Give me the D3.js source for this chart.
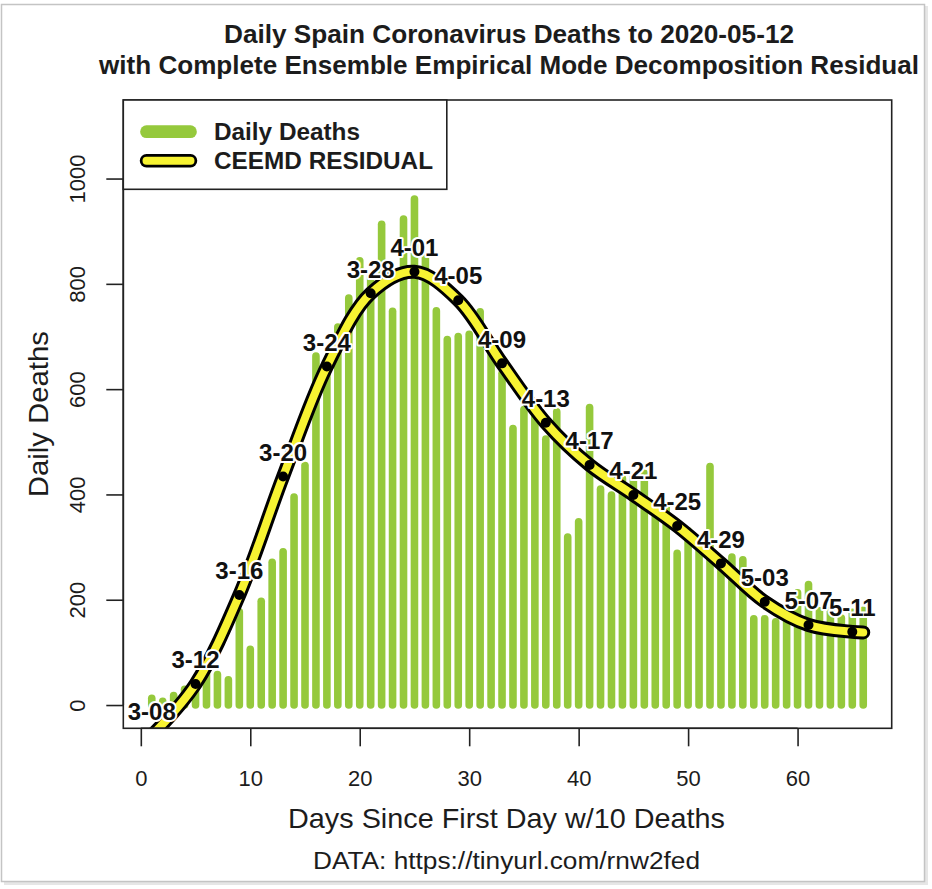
<!DOCTYPE html>
<html><head><meta charset="utf-8">
<script src="https://cdn.jsdelivr.net/npm/d3@7"></script>
<style>body{margin:0;background:#fff} svg{display:block}</style>
</head><body><svg id="c" width="932" height="889"></svg>
<script>
// ---------------- data ----------------
const days = d3.range(1, 67);
const dailyDeaths = [13,7,18,30,38,68,58,48,177,106,197,271,291,395,455,663,653,718,773,844,
  815,913,748,923,961,850,749,694,700,704,747,673,630,525,561,549,505,557,319,348,
  565,410,399,430,435,440,367,378,288,331,301,453,270,281,276,164,164,158,165,213,
  229,179,180,165,176,180];
const residualDays   = [1,5,9,13,17,21,25,29,33,37,41,45,49,53,57,61,65,66];
const residualValues = [-58,40,209,434,643,782,823,769,649,536,456,399,340,269,196,152,139,138];
const residualLabels = ["3-08","3-12","3-16","3-20","3-24","3-28","4-01","4-05","4-09","4-13",
  "4-17","4-21","4-25","4-29","5-03","5-07","5-11"];
const xTicks = [0,10,20,30,40,50,60];
const yTicks = [0,200,400,600,800,1000];
const yLimit = [0, 1105];
const titleLines = ["Daily Spain Coronavirus Deaths to 2020-05-12",
  "with Complete Ensemble Empirical Mode Decomposition Residual"];
const xTitle = "Days Since First Day w/10 Deaths";
const yTitle = "Daily Deaths";
const footer = "DATA: https://tinyurl.com/rnw2fed";
const legendLabels = ["Daily Deaths", "CEEMD RESIDUAL"];

// ---------------- layout ----------------
const FONT = "'Liberation Sans', Arial, Helvetica, sans-serif";
const GREEN = "#95c93c", YELLOW = "#f7f332", INK = "#1c1c1c";
const box = {l: 123.3, r: 891.7, t: 100, b: 728.3};
const svg = d3.select("#c");

// frame around the whole picture
svg.append("rect").attr("x", 4).attr("y", 6).attr("width", 924).attr("height", 879)
  .attr("fill", "#e6e6e6");
svg.append("rect").attr("x", 1.5).attr("y", 4.5).attr("width", 923).attr("height", 877)
  .attr("fill", "#fff").attr("stroke", "#c4c4c4").attr("stroke-width", 1.5);

const xExt = d3.extent(days), xPad = (xExt[1] - xExt[0]) * 0.04;
const yPad = (yLimit[1] - yLimit[0]) * 0.04;
const x = d3.scaleLinear().domain([xExt[0] - xPad, xExt[1] + xPad]).range([box.l, box.r]);
const y = d3.scaleLinear().domain([yLimit[0] - yPad, yLimit[1] + yPad]).range([box.b, box.t]);

svg.append("clipPath").attr("id", "clip").append("rect")
  .attr("x", box.l).attr("y", box.t).attr("width", box.r - box.l).attr("height", box.b - box.t);

// bars (type "h" lines with round ends)
svg.append("g").attr("clip-path", "url(#clip)").selectAll("line").data(days).join("line")
  .attr("x1", d => x(d)).attr("x2", d => x(d))
  .attr("y1", y(0)).attr("y2", (d, i) => y(dailyDeaths[i]))
  .attr("stroke", GREEN).attr("stroke-width", 7.6).attr("stroke-linecap", "round");

// residual curve
const pts = residualDays.map((d, i) => [x(d), y(residualValues[i])]);
const line = d3.line().curve(d3.curveCatmullRom.alpha(0.5));
const cg = svg.append("g").attr("clip-path", "url(#clip)");
cg.append("path").attr("d", line(pts)).attr("fill", "none").attr("stroke", "#000")
  .attr("stroke-width", 14).attr("stroke-linecap", "round").attr("stroke-linejoin", "round");
cg.append("path").attr("d", line(pts)).attr("fill", "none").attr("stroke", YELLOW)
  .attr("stroke-width", 8).attr("stroke-linecap", "round");
cg.selectAll("circle").data(residualLabels).join("circle")
  .attr("cx", (d, i) => x(residualDays[i])).attr("cy", (d, i) => y(residualValues[i]))
  .attr("r", 5).attr("fill", "#000");

// date labels with white halo
svg.append("g").selectAll("text").data(residualLabels).join("text")
  .attr("x", (d, i) => x(residualDays[i])).attr("y", (d, i) => y(residualValues[i]) - 15.7)
  .attr("text-anchor", "middle").attr("font-family", FONT).attr("font-weight", "bold")
  .attr("font-size", 24).attr("fill", "#111")
  .attr("stroke", "#fff").attr("stroke-width", 4).attr("stroke-linejoin", "round")
  .attr("paint-order", "stroke").text(d => d);

// plot box
svg.append("rect").attr("x", box.l).attr("y", box.t).attr("width", box.r - box.l)
  .attr("height", box.b - box.t).attr("fill", "none").attr("stroke", "#222").attr("stroke-width", 1.6);

// axes
const xAxis = svg.append("g").attr("transform", `translate(0,${box.b})`)
  .call(d3.axisBottom(x).tickValues(xTicks).tickSize(18).tickPadding(20).tickFormat(d3.format("d")));
const yAxis = svg.append("g").attr("transform", `translate(${box.l},0)`)
  .call(d3.axisLeft(y).tickValues(yTicks).tickSize(17).tickFormat(d3.format("d")));
[xAxis, yAxis].forEach(a => {
  a.select(".domain").attr("stroke", "#222").attr("stroke-width", 1.6);
  a.selectAll(".tick line").attr("stroke", "#222").attr("stroke-width", 1.6);
  a.selectAll("text").attr("font-family", FONT).attr("font-size", 22).attr("fill", INK);
});
xAxis.select(".domain").attr("d", `M${x(xTicks[0])},0H${x(xTicks[xTicks.length-1])}`);
yAxis.select(".domain").attr("d", `M0,${y(yTicks[0])}V${y(yTicks[yTicks.length-1])}`);
xAxis.selectAll(".tick text").attr("dy", null).attr("y", 57.7);
yAxis.selectAll(".tick text").attr("x", null).attr("dy", null)
  .attr("text-anchor", "middle").attr("transform", "translate(-38.5,0) rotate(-90)");

// titles
const mid = (box.l + box.r) / 2 + 1.5;
const tSpec = [{y: 42.7, len: 570}, {y: 74, len: 820}];
titleLines.forEach((t, i) => svg.append("text").attr("x", mid).attr("y", tSpec[i].y)
  .attr("text-anchor", "middle").attr("font-family", FONT).attr("font-weight", "bold")
  .attr("font-size", 25).attr("fill", INK)
  .attr("textLength", tSpec[i].len).attr("lengthAdjust", "spacingAndGlyphs").text(t));
svg.append("text").attr("x", 506.5).attr("y", 828).attr("text-anchor", "middle")
  .attr("font-family", FONT).attr("font-size", 28).attr("fill", INK)
  .attr("textLength", 437).attr("lengthAdjust", "spacingAndGlyphs").text(xTitle);
svg.append("text").attr("transform", `translate(48,${(box.t + box.b) / 2}) rotate(-90)`)
  .attr("text-anchor", "middle").attr("font-family", FONT).attr("font-size", 28).attr("fill", INK)
  .attr("textLength", 166).attr("lengthAdjust", "spacingAndGlyphs").text(yTitle);
svg.append("text").attr("x", 506.5).attr("y", 868.5).attr("text-anchor", "middle")
  .attr("font-family", FONT).attr("font-size", 23.5).attr("fill", INK)
  .attr("textLength", 387).attr("lengthAdjust", "spacingAndGlyphs").text(footer);

// legend
const lg = svg.append("g");
lg.append("rect").attr("x", box.l).attr("y", box.t).attr("width", 323.5).attr("height", 89.3)
  .attr("fill", "#fff").attr("stroke", "#222").attr("stroke-width", 1.6);
const ly = [131.7, 160.7];
lg.append("line").attr("x1", 146.5).attr("x2", 190.5).attr("y1", ly[0]).attr("y2", ly[0])
  .attr("stroke", GREEN).attr("stroke-width", 12.7).attr("stroke-linecap", "round");
lg.append("line").attr("x1", 146.5).attr("x2", 190.5).attr("y1", ly[1]).attr("y2", ly[1])
  .attr("stroke", "#000").attr("stroke-width", 13.5).attr("stroke-linecap", "round");
lg.append("line").attr("x1", 146.5).attr("x2", 190.5).attr("y1", ly[1]).attr("y2", ly[1])
  .attr("stroke", YELLOW).attr("stroke-width", 8).attr("stroke-linecap", "round");
const lLen = [146, 219];
legendLabels.forEach((t, i) => lg.append("text").attr("x", 214).attr("y", ly[i] + 8.2)
  .attr("font-family", FONT).attr("font-weight", "bold").attr("font-size", 23).attr("fill", INK)
  .attr("textLength", lLen[i]).attr("lengthAdjust", "spacingAndGlyphs").text(t));
</script></body></html>
